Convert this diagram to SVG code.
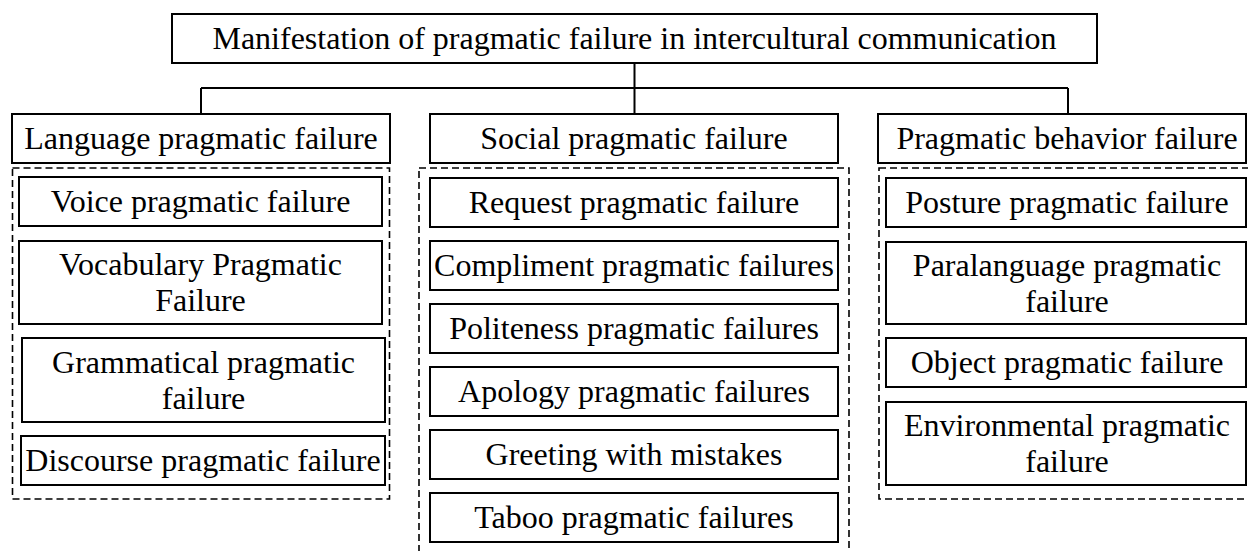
<svg xmlns="http://www.w3.org/2000/svg" width="1248" height="551" viewBox="0 0 1248 551">
<style>
.box{fill:#fff;stroke:#000;stroke-width:2}
.grp{fill:none;stroke:#000;stroke-width:1.6;stroke-dasharray:7 4}
.t{font-family:"Liberation Serif","Times New Roman",serif;font-size:32px;fill:#000;text-anchor:middle}
.c{fill:none;stroke:#000;stroke-width:2}
</style>
<rect width="1248" height="551" fill="#fff"/>
<g id="connectors">
<path class="c" d="M634.5 63V114M201 88H1068M201 88V114M1068 88V114"/>
</g>
<g id="root"><rect class="box" x="172" y="14" width="925" height="49"/><text class="t" x="634.5" y="48.5">Manifestation of pragmatic failure in intercultural communication</text></g>
<g id="language-group"><rect class="grp" x="12.5" y="168" width="377" height="331"/></g>
<g id="social-group"><rect class="grp" x="419" y="168" width="430" height="400"/></g>
<g id="behavior-group"><rect class="grp" x="879" y="168" width="380" height="331"/></g>
<g id="language"><rect class="box" x="12" y="114" width="378" height="49"/><text class="t" x="201" y="149">Language pragmatic failure</text></g>
<g id="social"><rect class="box" x="430" y="114" width="408" height="49"/><text class="t" x="634" y="149">Social pragmatic failure</text></g>
<g id="behavior"><rect class="box" x="878" y="114" width="368" height="49"/><text class="t" x="1067" y="149">Pragmatic behavior failure</text></g>
<g id="voice"><rect class="box" x="19" y="177" width="363" height="49"/><text class="t" x="200.5" y="212">Voice pragmatic failure</text></g>
<g id="vocabulary"><rect class="box" x="19" y="241" width="363" height="83"/><text class="t" x="200.5" y="275">Vocabulary Pragmatic</text><text class="t" x="200.5" y="311">Failure</text></g>
<g id="grammatical"><rect class="box" x="22" y="338" width="363" height="84"/><text class="t" x="203.5" y="373">Grammatical pragmatic</text><text class="t" x="203.5" y="409">failure</text></g>
<g id="discourse"><rect class="box" x="21" y="436" width="364" height="49"/><text class="t" x="203" y="471">Discourse pragmatic failure</text></g>
<g id="request"><rect class="box" x="430" y="178" width="408" height="49"/><text class="t" x="634" y="213">Request pragmatic failure</text></g>
<g id="compliment"><rect class="box" x="430" y="241" width="408" height="49"/><text class="t" x="634" y="276">Compliment pragmatic failures</text></g>
<g id="politeness"><rect class="box" x="430" y="304" width="408" height="49"/><text class="t" x="634" y="339">Politeness pragmatic failures</text></g>
<g id="apology"><rect class="box" x="430" y="367" width="408" height="49"/><text class="t" x="634" y="402">Apology pragmatic failures</text></g>
<g id="greeting"><rect class="box" x="430" y="430" width="408" height="49"/><text class="t" x="634" y="465">Greeting with mistakes</text></g>
<g id="taboo"><rect class="box" x="430" y="493" width="408" height="49"/><text class="t" x="634" y="528">Taboo pragmatic failures</text></g>
<g id="posture"><rect class="box" x="886" y="178" width="360" height="49"/><text class="t" x="1067" y="213">Posture pragmatic failure</text></g>
<g id="paralanguage"><rect class="box" x="886" y="242" width="360" height="82"/><text class="t" x="1067" y="276">Paralanguage pragmatic</text><text class="t" x="1067" y="312">failure</text></g>
<g id="object"><rect class="box" x="886" y="338" width="360" height="49"/><text class="t" x="1067" y="373">Object pragmatic failure</text></g>
<g id="environmental"><rect class="box" x="886" y="402" width="360" height="83"/><text class="t" x="1067" y="436">Environmental pragmatic</text><text class="t" x="1067" y="472">failure</text></g>
</svg>
